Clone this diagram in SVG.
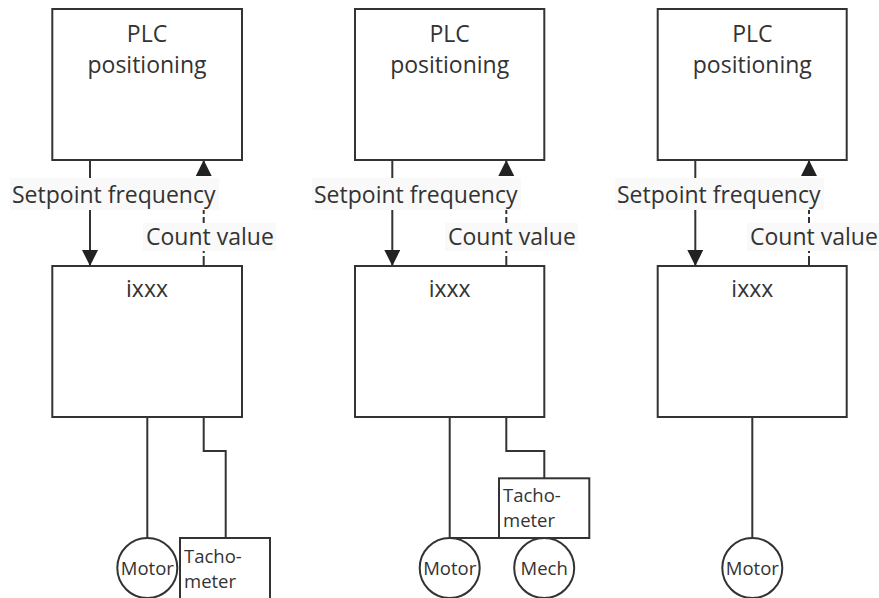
<svg xmlns="http://www.w3.org/2000/svg" width="879" height="598" viewBox="0 0 879 598">
<defs>
<style>
.box{fill:#fff;stroke:#333;stroke-width:2}
.ln{fill:none;stroke:#333;stroke-width:2}
.dash{fill:none;stroke:#333;stroke-width:2;stroke-dasharray:10 3}
.t{font-family:"Open Sans","Liberation Sans",sans-serif;fill:#333}
.big{font-size:23px}
.sm{font-size:18.5px}
.bg{fill:#f9f9f9}
.c{text-anchor:middle}
</style>
<marker id="ah" viewBox="0 0 16 16" refX="16" refY="8" markerWidth="16" markerHeight="16" markerUnits="userSpaceOnUse" orient="auto">
<path d="M0,0 L16,8 L0,16 Z" fill="#222"/>
</marker>
</defs>
<rect width="879" height="598" fill="#fff"/>

<g id="connectors">
<!-- panel 1 -->
<line class="ln" x1="90" y1="160" x2="90" y2="266" marker-end="url(#ah)"/>
<line class="dash" x1="203.7" y1="266" x2="203.7" y2="160" marker-end="url(#ah)"/>
<line class="ln" x1="147.3" y1="417" x2="147.3" y2="538"/>
<polyline class="ln" points="203.7,417 203.7,451 225.7,451 225.7,538"/>
<!-- panel 2 -->
<line class="ln" x1="392.3" y1="160" x2="392.3" y2="266" marker-end="url(#ah)"/>
<line class="dash" x1="506.3" y1="266" x2="506.3" y2="160" marker-end="url(#ah)"/>
<polyline class="ln" points="449.7,417 449.7,538 499,538"/>
<polyline class="ln" points="506.3,417 506.3,451 544.3,451 544.3,478.3"/>
<!-- panel 3 -->
<line class="ln" x1="695.3" y1="160" x2="695.3" y2="266" marker-end="url(#ah)"/>
<line class="dash" x1="809" y1="266" x2="809" y2="160" marker-end="url(#ah)"/>
<line class="ln" x1="752.3" y1="417" x2="752.3" y2="538"/>
</g>

<g id="labels">
<rect class="bg" x="10" y="178" width="209" height="32"/>
<text class="t big" x="12" y="203">Setpoint frequency</text>
<rect class="bg" x="143" y="223" width="133" height="28"/>
<text class="t big" x="146" y="245">Count value</text>

<rect class="bg" x="312" y="178" width="209" height="32"/>
<text class="t big" x="314" y="203">Setpoint frequency</text>
<rect class="bg" x="445" y="223" width="133" height="28"/>
<text class="t big" x="448" y="245">Count value</text>

<rect class="bg" x="615" y="178" width="209" height="32"/>
<text class="t big" x="617" y="203">Setpoint frequency</text>
<rect class="bg" x="747" y="223" width="132" height="28"/>
<text class="t big" x="750" y="245">Count value</text>
</g>

<g id="plc1"><rect class="box" x="52.3" y="9" width="189.7" height="151"/>
<text class="t big c" x="147" y="42">PLC</text><text class="t big c" x="147" y="73">positioning</text></g>
<g id="ixxx1"><rect class="box" x="52.3" y="266" width="189.7" height="151"/>
<text class="t big c" x="147" y="297">ixxx</text></g>
<g id="motor1"><circle class="box" cx="147.3" cy="568" r="30"/>
<text class="t sm c" x="147.3" y="575">Motor</text></g>
<g id="tacho1"><rect class="box" x="180" y="538" width="90" height="70"/>
<text class="t sm" x="184" y="563">Tacho-</text><text class="t sm" x="184" y="588">meter</text></g>

<g id="plc2"><rect class="box" x="355" y="9" width="189.3" height="151"/>
<text class="t big c" x="449.7" y="42">PLC</text><text class="t big c" x="449.7" y="73">positioning</text></g>
<g id="ixxx2"><rect class="box" x="355" y="266" width="189.3" height="151"/>
<text class="t big c" x="449.7" y="297">ixxx</text></g>
<g id="tacho2"><rect class="box" x="499" y="478.3" width="90.3" height="59.7"/>
<text class="t sm" x="503" y="502">Tacho-</text><text class="t sm" x="503" y="527">meter</text></g>
<g id="motor2"><circle class="box" cx="449.7" cy="568" r="30"/>
<text class="t sm c" x="449.7" y="575">Motor</text></g>
<g id="mech2"><circle class="box" cx="544.2" cy="568" r="30"/>
<text class="t sm c" x="544.2" y="575">Mech</text></g>

<g id="plc3"><rect class="box" x="657.7" y="9" width="189" height="151"/>
<text class="t big c" x="752.3" y="42">PLC</text><text class="t big c" x="752.3" y="73">positioning</text></g>
<g id="ixxx3"><rect class="box" x="657.7" y="266" width="189" height="151"/>
<text class="t big c" x="752.3" y="297">ixxx</text></g>
<g id="motor3"><circle class="box" cx="752.3" cy="568" r="30"/>
<text class="t sm c" x="752.3" y="575">Motor</text></g>
</svg>
